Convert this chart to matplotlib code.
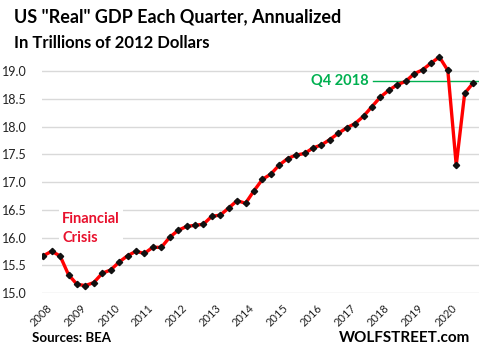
import matplotlib
matplotlib.use("Agg")
import matplotlib.pyplot as plt

# Real GDP, trillions of 2012 dollars, quarterly 2008Q1 - 2020Q4
gdp = [15.671, 15.752, 15.667, 15.328,
       15.156, 15.134, 15.189, 15.356,
       15.415, 15.557, 15.672, 15.751,
       15.713, 15.825, 15.821, 16.004,
       16.129, 16.199, 16.220, 16.239,
       16.383, 16.403, 16.532, 16.664,
       16.617, 16.842, 17.047, 17.143,
       17.306, 17.423, 17.486, 17.514,
       17.613, 17.668, 17.765, 17.876,
       17.977, 18.054, 18.186, 18.359,
       18.531, 18.654, 18.752, 18.814,
       18.950, 19.021, 19.142, 19.253,
       19.011, 17.303, 18.597, 18.784]
years = ["2008", "2009", "2010", "2011", "2012", "2013", "2014",
         "2015", "2016", "2017", "2018", "2019", "2020"]
y_ticks = [15.0, 15.5, 16.0, 16.5, 17.0, 17.5, 18.0, 18.5, 19.0]
q4_2018_index = 43
q4_2018_label = "Q4 2018"

plt.rcParams['font.family'] = ['Lato', 'DejaVu Sans']

fig = plt.figure(figsize=(4.79, 3.61), dpi=100)
ax = fig.add_axes([42/479, 1 - 293/361, 1 - 42/479, (293 - 51.6)/361])

x = list(range(len(gdp)))
ax.plot(x, gdp, color='#ff0000', lw=2.4, zorder=3, solid_joinstyle='round')
ax.plot(x, gdp, linestyle='none', marker='D', markersize=3.2,
        color='#111111', zorder=4)

ax.set_xlim(-0.15, 51.7)
ax.set_ylim(15.0, 19.35)
ax.set_yticks(y_ticks)
ax.set_yticklabels([f"{v:.1f}" for v in y_ticks], fontsize=9, color='#222222')
ax.set_xticks([4 * i + 0.4 for i in range(len(years))])
ax.set_xticklabels(years, rotation=45, ha='right', va='top',
                   rotation_mode='anchor', fontsize=8, color='#222222')
ax.tick_params(axis='both', length=0)
ax.tick_params(axis='y', pad=11)
ax.tick_params(axis='x', pad=7)
ax.grid(axis='y', color='#d9d9d9', lw=1)
ax.set_axisbelow(True)
for s in ax.spines.values():
    s.set_visible(False)

# Q4 2018 reference line
q4v = gdp[q4_2018_index]
ax.plot([39.1, 51.7], [q4v, q4v], color='#00b050', lw=1, zorder=2, clip_on=False)
ax.text(38.6, q4v, q4_2018_label, color='#00b050', fontsize=10.5,
        fontweight='bold', ha='right', va='center', zorder=5)

# Financial crisis annotation
ax.text(2.25, 16.16, "Financial\nCrisis", color='#e8112d', fontsize=10.5,
        fontweight='bold', ha='left', va='center', linespacing=1.5,
        bbox=dict(facecolor='white', edgecolor='none', pad=2), zorder=5)

fig.text(14/479, 1 - 17/361, 'US "Real" GDP Each Quarter, Annualized',
         fontsize=13, fontweight='bold', ha='left', va='center', color='black')
fig.text(14/479, 1 - 43/361, 'In Trillions of 2012 Dollars',
         fontsize=12, fontweight='bold', ha='left', va='center', color='black')
fig.text(32/479, 1 - 338/361, 'Sources: BEA', fontsize=9.5,
         fontweight='bold', ha='left', va='center', color='black')
fig.text(470/479, 1 - 338/361, 'WOLFSTREET.com', fontsize=11,
         fontweight='bold', ha='right', va='center', color='black')

fig.savefig("out.png", dpi=100)
